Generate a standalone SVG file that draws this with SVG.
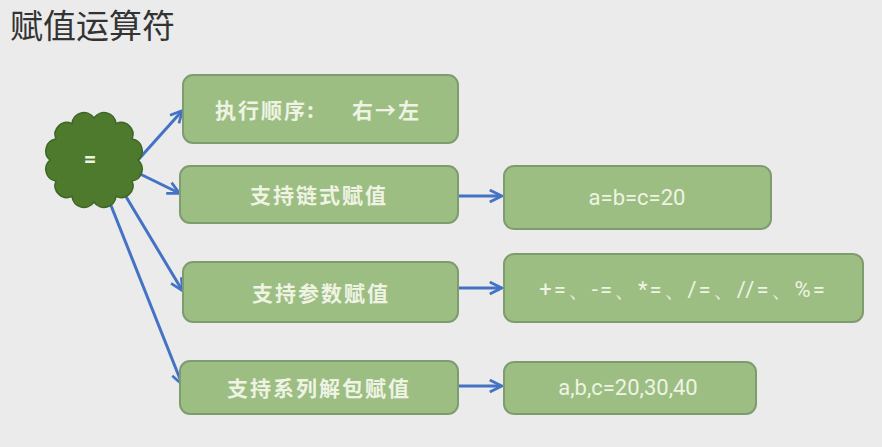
<svg xmlns="http://www.w3.org/2000/svg" width="882" height="447" viewBox="0 0 882 447">
<defs>
<style>
.box{fill:#9dbe82;stroke:#7f9c70;stroke-width:2}
.t{font-family:"Noto Sans CJK SC","Liberation Sans",sans-serif;font-size:21px;font-weight:600;letter-spacing:2px;fill:#eef3e4;text-anchor:middle;dominant-baseline:central}
.l{font-family:Roboto,"Liberation Sans",sans-serif;font-size:22px;fill:#eef3e4;text-anchor:middle;dominant-baseline:central}
.c{fill:none;stroke:#4472c4;stroke-width:3;marker-end:url(#ah)}
</style>
<marker id="ah" viewBox="0 0 10 10" refX="8.5" refY="5" markerWidth="5" markerHeight="5" orient="auto" markerUnits="strokeWidth">
<path d="M1,1 L9,5 L1,9" fill="none" stroke="#4472c4" stroke-width="1.8" stroke-linejoin="miter"/>
</marker>
</defs>
<rect width="882" height="447" fill="#ebebeb"/>
<text x="10" y="38" font-family="Noto Sans CJK SC,Liberation Sans,sans-serif" font-size="33" fill="#333">赋值运算符</text>
<g id="connectors">
<path class="c" d="M138,160 L182,111"/>
<path class="c" d="M136,172 L179,193"/>
<path class="c" d="M122,190 L182,290"/>
<path class="c" d="M108,198 L182,384"/>
<path class="c" d="M458,196 L501,196"/>
<path class="c" d="M458,288 L501,288"/>
<path class="c" d="M456,386 L501,386"/>
</g>
<g id="cloud">
<path d="M138,160 A12,12 0 0 1 132.1,181 A12,12 0 0 1 116,196.4 A12,12 0 0 1 94,202 A12,12 0 0 1 72,196.4 A12,12 0 0 1 55.9,181 A12,12 0 0 1 50,160 A12,12 0 0 1 55.9,139 A12,12 0 0 1 72,123.6 A12,12 0 0 1 94,118 A12,12 0 0 1 116,123.6 A12,12 0 0 1 132.1,139 A12,12 0 0 1 138,160 Z" fill="#4e7a2e" stroke="#3e6624" stroke-width="1.5"/>
<text class="l" x="90" y="158" style="font-weight:bold">=</text>
</g>
<g id="n1"><rect class="box" x="183" y="75" width="275" height="68" rx="10"/><text class="t" y="109" style="text-anchor:start"><tspan x="215">执行顺序:</tspan><tspan x="352">右→左</tspan></text></g>
<g id="n2"><rect class="box" x="180" y="166" width="278" height="57" rx="10"/><text class="t" x="319" y="194">支持链式赋值</text></g>
<g id="n3"><rect class="box" x="183" y="262" width="275" height="60" rx="10"/><text class="t" x="321" y="292">支持参数赋值</text></g>
<g id="n4"><rect class="box" x="180" y="361" width="278" height="53" rx="10"/><text class="t" x="319" y="387">支持系列解包赋值</text></g>
<g id="n5"><rect class="box" x="504" y="166" width="267" height="63" rx="10"/><text class="l" x="637" y="197">a=b=c=20</text></g>
<g id="n6"><rect class="box" x="504" y="254" width="359" height="68" rx="10"/><text class="l" x="683" y="289" style="letter-spacing:2px">+=、-=、*=、/=、//=、%=</text></g>
<g id="n7"><rect class="box" x="504" y="362" width="252" height="52" rx="10"/><text class="l" x="628" y="387">a,b,c=20,30,40</text></g>
</svg>
